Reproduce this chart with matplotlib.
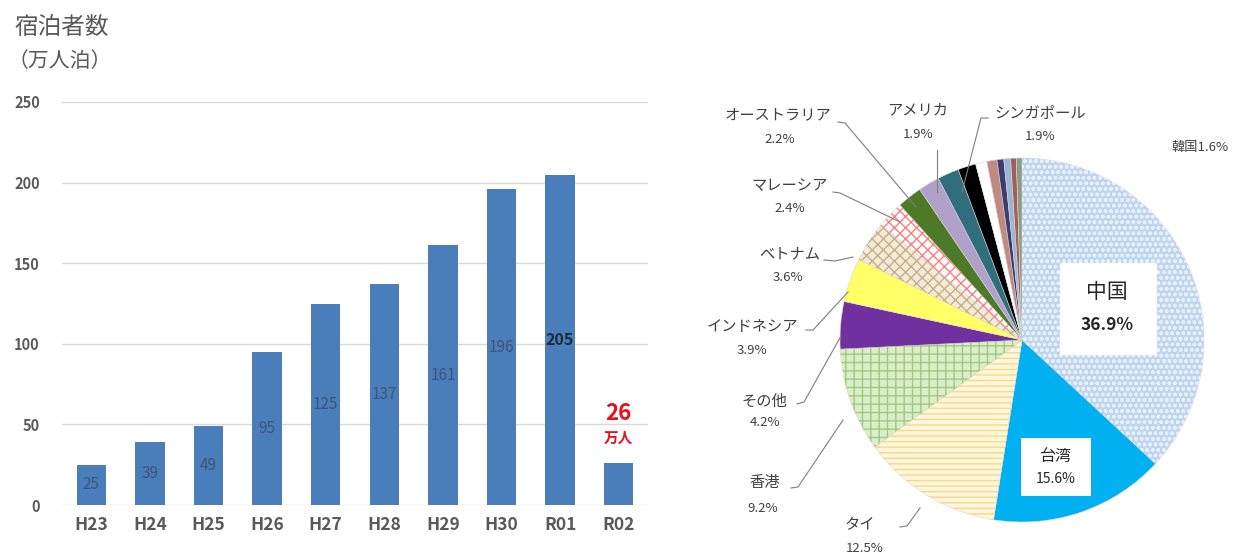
import matplotlib
matplotlib.use("Agg")
import matplotlib.pyplot as plt
import numpy as np

plt.rcParams['font.family'] = ['Noto Sans CJK JP', 'DejaVu Sans']
plt.rcParams['hatch.linewidth'] = 1.0

# ---------------- data ----------------
years = ["H23", "H24", "H25", "H26", "H27", "H28", "H29", "H30", "R01", "R02"]
stays = [25, 39, 49, 95, 125, 137, 161, 196, 205, 26]
y_ticks = [0, 50, 100, 150, 200, 250]

countries = ["中国", "台湾", "タイ", "香港", "その他", "インドネシア", "ベトナム",
             "マレーシア", "オーストラリア", "アメリカ", "シンガポール", "韓国",
             "", "", "", "", "", ""]
shares = [36.9, 15.6, 12.5, 9.2, 4.2, 3.9, 3.6, 2.4, 2.2, 1.9, 1.9, 1.6,
          1.0, 0.9, 0.6, 0.6, 0.5, 0.5]
face_colors = ["#BFD4EE", "#00B0F0", "#FFF7DC", "#DDEDCC", "#7030A0", "#FFFF66",
               "#F3EAD8", "#FFFFFF", "#4E7A27", "#B1A0C7", "#2F6E7A", "#000000",
               "#FFFFFF", "#C08A80", "#3F3A70", "#9DB5D5", "#A0605A", "#8C9C84"]
hatches = ["ooo", None, "---", "++", None, None, "xxx", "xxx", None, None, None, None,
           None, None, None, None, None, None]
hatch_colors = ["#E9F1FB", None, "#F2D98E", "#9DCB7C", None, None, "#C6AE88", "#FF7C80",
                None, None, None, None, None, None, None, None, None, None]

fig = plt.figure(figsize=(12.36, 5.55), dpi=100)
W, H = 1236, 555

# ---------------- bar chart ----------------
axb = fig.add_axes([62 / W, 1 - 505 / H, (648 - 62) / W, (505 - 102) / H])
x = np.arange(len(years))
bar_color = "#4A7EBB"
axb.bar(x, stays, width=0.5, color=bar_color, zorder=2)
axb.set_xlim(-0.5, len(years) - 0.5)
axb.set_ylim(0, 250)
axb.set_yticks(y_ticks)
axb.set_yticklabels([str(t) for t in y_ticks], fontsize=10.5, fontweight="bold", color="#595959")
axb.set_xticks(x)
axb.set_xticklabels(years, fontsize=12.5, fontweight="bold", color="#595959")
axb.tick_params(axis="y", length=0, pad=16)
axb.tick_params(axis="x", length=0, pad=8)
for s in axb.spines.values():
    s.set_visible(False)
axb.yaxis.grid(True, color="#D9D9D9", linewidth=1.0, zorder=0)
axb.set_axisbelow(True)

for i, v in enumerate(stays[:-1]):
    is_max = v == max(stays)
    axb.text(i, v / 2, str(v), ha="center", va="center",
             fontsize=11.5 if is_max else 11,
             fontweight="bold" if is_max else "normal",
             color="#1E2A3C" if is_max else "#3E5478", zorder=3)

last = len(years) - 1
axb.annotate(str(stays[-1]), xy=(last, stays[-1]), xytext=(0, 50),
             textcoords="offset pixels", ha="center", va="center",
             fontsize=16, fontweight="bold", color="#E8101E")
axb.annotate("万人", xy=(last, stays[-1]), xytext=(0, 25),
             textcoords="offset pixels", ha="center", va="center",
             fontsize=10.5, fontweight="bold", color="#E8101E")

fig.text(14 / W, 1 - 27 / H, "宿泊者数", fontsize=17, color="#595959", va="center", ha="left")
fig.text(8 / W, 1 - 61 / H, "（万人泊）", fontsize=15, color="#595959", va="center", ha="left")

# ---------------- pie chart ----------------
cx, cy, R = 1022, 340, 182
left_px = 660
axp = fig.add_axes([left_px / W, 0, (W - left_px) / W, 1])
axp.axis("off")


def P(px, py):
    return ((px - cx) / R, (cy - py) / R)


wedges, _ = axp.pie(shares, colors=face_colors, startangle=90, counterclock=False,
                    radius=1.0, wedgeprops=dict(linewidth=0.4, edgecolor="#D8D8D8"))
for w, h, hc in zip(wedges, hatches, hatch_colors):
    if h:
        overlay = matplotlib.patches.Wedge(w.center, w.r, w.theta1, w.theta2,
                                           facecolor="none", edgecolor=hc,
                                           hatch=h, linewidth=0)
        axp.add_patch(overlay)

axp.set_aspect("auto")
axp.set_xlim(-(cx - left_px) / R, (W - cx) / R)
axp.set_ylim(-(H - cy) / R, cy / R)

label_color = "#404040"
lfs = 11


def outside_label(name, pct, text_xy, pct_xy, line_pts):
    axp.text(*P(*text_xy), name, ha="center", va="center", fontsize=lfs, color=label_color)
    axp.text(*P(*pct_xy), f"{pct}%", ha="center", va="center", fontsize=9.5, color=label_color)
    pts = [P(*p) for p in line_pts]
    axp.plot([p[0] for p in pts], [p[1] for p in pts], color="#7F7F7F", linewidth=0.8)


outside_label(countries[8], shares[8], (778, 115), (780, 140), [(838, 122), (845, 123), (916, 207)])
outside_label(countries[9], shares[9], (918, 110), (918, 135), [(937, 150), (937, 192)])
outside_label(countries[10], shares[10], (1040, 113), (1040, 137), [(988, 118), (981, 118), (962, 192)])
outside_label(countries[7], shares[7], (790, 186), (790, 209), [(833, 192), (840, 193), (900, 222)])
outside_label(countries[6], shares[6], (790, 254), (788, 278), [(824, 260), (835, 261), (853, 257)])
outside_label(countries[5], shares[5], (752, 326), (752, 350), [(806, 330), (813, 330), (848, 292)])
outside_label(countries[4], shares[4], (764, 401), (765, 423), [(797, 404), (804, 402), (841, 336)])
outside_label(countries[3], shares[3], (765, 483), (763, 508), [(791, 488), (798, 487), (843, 420)])
outside_label(countries[2], shares[2], (860, 525), (865, 548), [(900, 527), (907, 526), (920, 508)])

axp.text(*P(1200, 148), f"{countries[11]}{shares[11]}%", ha="center", va="center",
         fontsize=9.5, color=label_color)

# inside boxed labels
bx0, by0 = P(1060, 355)
bx1, by1 = P(1157, 263)
axp.add_patch(matplotlib.patches.Rectangle((bx0, by0), bx1 - bx0, by1 - by0,
                                           facecolor="white", edgecolor="none", zorder=3))
axp.text(*P(1107, 292), countries[0], ha="center", va="center", fontsize=15,
         color="#262626", zorder=4)
axp.text(*P(1107, 325), f"{shares[0]}%", ha="center", va="center", fontsize=12.5,
         fontweight="bold", color="#262626", zorder=4)

bx0, by0 = P(1021, 496)
bx1, by1 = P(1091, 438)
axp.add_patch(matplotlib.patches.Rectangle((bx0, by0), bx1 - bx0, by1 - by0,
                                           facecolor="white", edgecolor="none", zorder=3))
axp.text(*P(1056, 456), countries[1], ha="center", va="center", fontsize=11.5,
         color="#262626", zorder=4)
axp.text(*P(1056, 479), f"{shares[1]}%", ha="center", va="center", fontsize=10,
         color="#262626", zorder=4)

fig.savefig("out.png", dpi=100)
